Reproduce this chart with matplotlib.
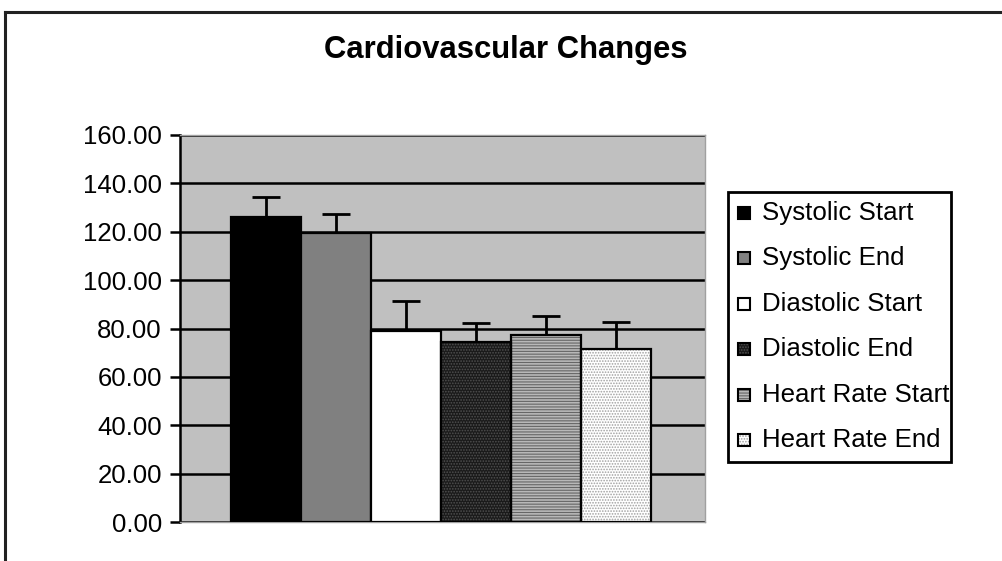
import matplotlib
matplotlib.use("Agg")
import matplotlib.pyplot as plt
from matplotlib.patches import Rectangle
from matplotlib.lines import Line2D

categories = ["Systolic Start", "Systolic End", "Diastolic Start",
              "Diastolic End", "Heart Rate Start", "Heart Rate End"]
means = [126.0, 119.5, 79.0, 74.5, 77.3, 71.5]
sds = [8.2, 8.0, 12.2, 7.6, 7.8, 11.3]
yticks = [0, 20, 40, 60, 80, 100, 120, 140, 160]

# styles: face, hatch, hatch colour
styles = [
    ("#000000", None, None),
    ("#808080", None, None),
    ("#ffffff", None, None),
    ("#1a1a1a", "......", "#505050"),
    ("#b8b8b8", "------", "#666666"),
    ("#ffffff", "......", "#a0a0a0"),
]

plt.rcParams['font.family'] = ['Liberation Sans', 'DejaVu Sans']
plt.rcParams['hatch.linewidth'] = 0.8

fig = plt.figure(figsize=(10.03, 5.61), dpi=100)
fig.patch.set_facecolor("white")

ax = fig.add_axes([180/1003, 1-522/561, 525/1003, (522-135)/561])
ax.set_facecolor("#c0c0c0")

x = list(range(len(categories)))
for i, (m, (fc, h, hc)) in enumerate(zip(means, styles)):
    if h is None:
        ax.bar(i, m, width=1.0, color=fc, edgecolor="black", linewidth=1.6, zorder=3)
    else:
        ax.bar(i, m, width=1.0, color=fc, edgecolor=hc, hatch=h, linewidth=0, zorder=3)
        ax.bar(i, m, width=1.0, fill=False, edgecolor="black", linewidth=1.6, zorder=3.5)

ax.errorbar(x, means, yerr=[[0]*len(sds), sds], fmt="none", ecolor="black",
            elinewidth=2.0, capsize=10, capthick=2.0, zorder=2.5)

ax.set_xlim(-1.229, 6.271)
ax.set_ylim(0, 160)
ax.set_yticks(yticks)
ax.set_yticklabels([f"{v:.2f}" for v in yticks], fontsize=18.5)
ax.set_xticks([])
ax.yaxis.grid(True, color="black", linewidth=1.8, zorder=1)
ax.set_axisbelow(True)
ax.tick_params(axis="y", direction="out", length=7, width=1.8, pad=6, color="black")
ax.spines['left'].set_color("black")
ax.spines['left'].set_linewidth(1.8)
for s in ("top", "right", "bottom"):
    ax.spines[s].set_color("#a0a0a0")
    ax.spines[s].set_linewidth(1.0)

fig.text(506/1003, 1-50/561, "Cardiovascular Changes", ha="center", va="center",
         fontsize=22.3, fontweight="bold")

# outer frame (left and top lines)
fig.add_artist(Line2D([5/1003, 5/1003], [0, 1-12/561], transform=fig.transFigure,
                      color="#222222", linewidth=2.2))
fig.add_artist(Line2D([5/1003, 1], [1-12/561, 1-12/561], transform=fig.transFigure,
                      color="#222222", linewidth=2.2))

# legend
W, H = 1003, 561
lx0, ly0, lx1, ly1 = 728, 192, 951, 462
fig.add_artist(Rectangle((lx0/W, 1-ly1/H), (lx1-lx0)/W, (ly1-ly0)/H,
                         transform=fig.transFigure, facecolor="white",
                         edgecolor="black", linewidth=2.0, zorder=5))
row_y = [213 + 45.4*k for k in range(len(categories))]
for name, (fc, h, hc), ry in zip(categories, styles, row_y):
    sq = 12
    if h is None:
        fig.add_artist(Rectangle((738/W, 1-(ry+sq/2)/H), sq/W, sq/H, transform=fig.transFigure,
                                 facecolor=fc, edgecolor="black", linewidth=1.5, zorder=6))
    else:
        fig.add_artist(Rectangle((738/W, 1-(ry+sq/2)/H), sq/W, sq/H, transform=fig.transFigure,
                                 facecolor=fc, edgecolor=hc, hatch=h, linewidth=0, zorder=6))
        fig.add_artist(Rectangle((738/W, 1-(ry+sq/2)/H), sq/W, sq/H, transform=fig.transFigure,
                                 fill=False, edgecolor="black", linewidth=1.5, zorder=6.5))
    fig.text(762/W, 1-ry/H, name, ha="left", va="center", fontsize=18.6, zorder=7)

fig.savefig("out.png", dpi=100, facecolor="white")
